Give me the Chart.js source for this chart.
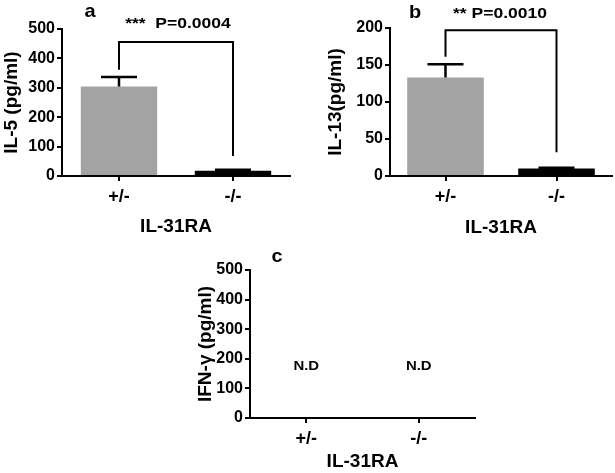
<!DOCTYPE html>
<html>
<head>
<meta charset="utf-8">
<script src="https://cdn.jsdelivr.net/npm/chart.js@4.4.1/dist/chart.umd.min.js"></script>
<style>
  body { margin: 0; background: #fff; }
  #wrap { position: relative; width: 615px; height: 473px; overflow: hidden; }
  canvas { position: absolute; }
</style>
</head>
<body>
<div id="wrap">
  <canvas id="chartA" width="305" height="240" style="left:0;top:0"></canvas>
  <canvas id="chartB" width="310" height="240" style="left:305px;top:0"></canvas>
  <canvas id="chartC" width="300" height="233" style="left:180px;top:240px"></canvas>
</div>
<script>
// categories
const groups = ['+/-', '-/-'];

// IL-5 (panel a)
const il5Mean = [304, 18];
const il5Upper = [337, 21];
const il5Bracket = [361, 456, 68]; // left leg end, bar height, right leg end
const il5Label = '***  P=0.0004';

// IL-13 (panel b)
const il13Mean = [133, 10];
const il13Upper = [151, 11];
const il13Bracket = [161, 197, 32];
const il13Label = '** P=0.0010';

// IFN-gamma (panel c) - not detected
const ifngMean = [null, null];
const ifngText = ['N.D', 'N.D'];
const ifngTextAt = 175;

const barColors = ['#a3a3a3', '#000000'];
const FONT = '"Liberation Sans", Arial, Helvetica, sans-serif';

Chart.defaults.font.family = FONT;
Chart.defaults.font.weight = 'bold';
Chart.defaults.color = '#000';

// stretched bold text, like the original figure
function wideText(ctx, text, x, y, size, sx) {
    ctx.save();
    ctx.font = 'bold ' + size + 'px ' + FONT;
    ctx.fillStyle = '#000';
    ctx.textAlign = 'center';
    ctx.textBaseline = 'middle';
    ctx.translate(x, y);
    ctx.scale(sx, 1);
    ctx.fillText(text, 0, 0);
    ctx.restore();
}

function extrasPlugin(opts) {
    return {
        id: 'extras',
        afterDatasetsDraw(chart) {
            const ctx = chart.ctx;
            const y = chart.scales.y;
            const area = chart.chartArea;
            const meta = chart.getDatasetMeta(0);
            ctx.save();
            ctx.strokeStyle = '#000';
            ctx.lineWidth = 2.5;

            // error bars (upper only)
            if (opts.mean && opts.upper) {
                meta.data.forEach((bar, i) => {
                    const top = y.getPixelForValue(opts.upper[i]);
                    const base = y.getPixelForValue(opts.mean[i]);
                    ctx.beginPath();
                    ctx.moveTo(bar.x, base);
                    ctx.lineTo(bar.x, top);
                    ctx.moveTo(bar.x - 18, top);
                    ctx.lineTo(bar.x + 18, top);
                    ctx.stroke();
                });
            }

            // significance bracket
            if (opts.bracket) {
                const x1 = meta.data[0].x, x2 = meta.data[1].x;
                const yTop = y.getPixelForValue(opts.bracket[1]);
                ctx.lineWidth = 2;
                ctx.beginPath();
                ctx.moveTo(x1, y.getPixelForValue(opts.bracket[0]));
                ctx.lineTo(x1, yTop);
                ctx.lineTo(x2, yTop);
                ctx.lineTo(x2, y.getPixelForValue(opts.bracket[2]));
                ctx.stroke();
                wideText(ctx, opts.label, (x1 + x2) / 2 + opts.labelDx, yTop - opts.labelDy, 14, 1.25);
            }

            // not-detected labels
            if (opts.texts) {
                const xs = chart.scales.x;
                opts.texts.forEach((t, i) => {
                    wideText(ctx, t, xs.getPixelForValue(i), y.getPixelForValue(opts.textAt), 13, 1.15);
                });
            }

            // panel letter
            wideText(ctx, opts.letter, area.left + opts.letterDx, area.top + opts.letterDy, 19, 1.05);
            ctx.restore();
        }
    };
}

function makeChart(id, cfg) {
    return new Chart(document.getElementById(id), {
        type: 'bar',
        data: {
            labels: groups,
            datasets: [{
                data: cfg.values,
                backgroundColor: barColors,
                borderWidth: 0,
                barPercentage: cfg.barPct,
                categoryPercentage: 1
            }]
        },
        options: {
            responsive: false,
            animation: false,
            layout: { padding: cfg.padding },
            plugins: { legend: { display: false }, tooltip: { enabled: false } },
            scales: {
                x: {
                    afterFit: (s) => { s.height = cfg.xHeight; },
                    grid: { offset: false, drawOnChartArea: false, drawTicks: true, tickLength: 5, color: '#000', lineWidth: 2 },
                    border: { color: '#000', width: 2 },
                    ticks: { padding: 5, font: { size: 18, weight: 'bold' } },
                    title: { display: true, text: 'IL-31RA', font: { size: 19, weight: 'bold' }, padding: { top: 0, bottom: cfg.xTitlePad } }
                },
                y: {
                    min: 0,
                    max: cfg.max,
                    afterFit: (s) => { s.width = cfg.yWidth; },
                    grid: { drawOnChartArea: false, drawTicks: true, tickLength: 5, color: '#000', lineWidth: 2 },
                    border: { color: '#000', width: 2 },
                    ticks: { stepSize: cfg.step, padding: 2, font: { size: 16, weight: 'bold' } },
                    title: { display: true, text: cfg.yTitle, font: { size: 19, weight: 'bold' }, padding: { top: cfg.yTitlePad, bottom: 0 } }
                }
            }
        },
        plugins: [extrasPlugin(cfg.extras)]
    });
}

makeChart('chartA', {
    values: il5Mean, max: 500, step: 100, barPct: 0.67,
    yTitle: 'IL-5 (pg/ml)',
    padding: { top: 29, right: 15, bottom: 0, left: 0 },
    yWidth: 62, xHeight: 64, xTitlePad: 2, yTitlePad: 0,
    extras: { mean: il5Mean, upper: il5Upper, bracket: il5Bracket, label: il5Label,
              labelDx: 2, labelDy: 18, letter: 'a', letterDx: 28, letterDy: -17 }
});

makeChart('chartB', {
    values: il13Mean, max: 200, step: 50, barPct: 0.69,
    yTitle: 'IL-13(pg/ml)',
    padding: { top: 28, right: 3, bottom: 0, left: 0 },
    yWidth: 85, xHeight: 64, xTitlePad: 1, yTitlePad: 19,
    extras: { mean: il13Mean, upper: il13Upper, bracket: il13Bracket, label: il13Label,
              labelDx: -1, labelDy: 16, letter: 'b', letterDx: 25, letterDy: -15 }
});

makeChart('chartC', {
    values: ifngMean, max: 500, step: 100, barPct: 0.67,
    yTitle: 'IFN-\u03b3 (pg/ml)',
    padding: { top: 30, right: 5, bottom: 0, left: 0 },
    yWidth: 70, xHeight: 55, xTitlePad: 0, yTitlePad: 14,
    extras: { texts: ifngText, textAt: ifngTextAt, letter: 'c', letterDx: 27, letterDy: -13 }
});
</script>
</body>
</html>
